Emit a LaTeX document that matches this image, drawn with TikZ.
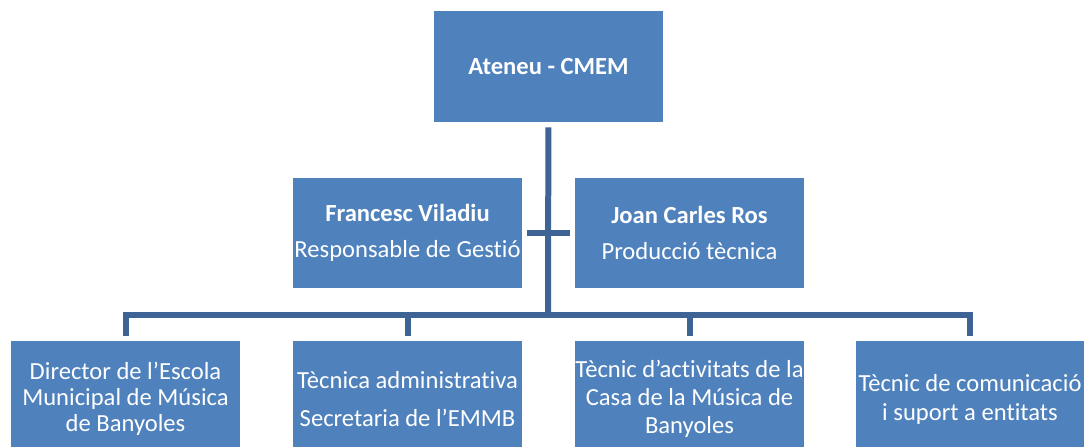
\documentclass[tikz,border=0pt]{standalone}
\usepackage{fontspec}
\setmainfont{Carlito}[Ligatures=NoCommon]
\definecolor{boxblue}{RGB}{79,129,189}
\definecolor{lineblue}{RGB}{61,100,148}
\begin{document}
\begin{tikzpicture}[x=0.02cm,y=-0.02cm,
    box/.style={fill=boxblue,text=white,minimum width=4.58cm,minimum height=2.22cm,
      inner sep=0pt,align=center,font=\fontsize{14}{14.8}\selectfont},
    lowbox/.style={box,minimum height=2.32cm},
    link/.style={draw=lineblue,line width=0.12cm}]
  \useasboundingbox (0,0) rectangle (1084,446);
  \node[box] (top) at (548.5,66.5) {\textbf{Ateneu - CMEM}};
  \node[box] (fv) at (407.5,233) {\textbf{Francesc Viladiu}\\[5.7pt]Responsable de Gestió};
  \node[box] (jc) at (689.5,233) {\textbf{Joan Carles Ros}\\[5.7pt]Producció tècnica};
  \node[lowbox] (dir) at (125.5,399) {Director de l’Escola\\Municipal de Música\\de Banyoles};
  \node[lowbox] (adm) at (407.5,399) {Tècnica administrativa\\[6.8pt]Secretaria de l’EMMB};
  \node[lowbox] (cas) at (689.5,399) {Tècnic d’activitats de la\\[1pt]Casa de la Música de\\[1pt]Banyoles};
  \node[lowbox] (com) at (970,399) {Tècnic de comunicació\\[1.7pt]i suport a entitats};
  \coordinate (hub) at (548,315);
  \coordinate (crossL) at (527,233);
  \coordinate (crossR) at (570,233);
  \begin{scope}[link]
    \draw[shorten <=0.1cm] (top) -- (hub);
    \draw (crossL) -- (crossR);
    \draw[shorten >=0.1cm] (hub) -| (dir);
    \draw[shorten >=0.1cm] (hub) -| (adm);
    \draw[shorten >=0.1cm] (hub) -| (cas);
    \draw[shorten >=0.1cm] (hub) -| (com);
  \end{scope}
\end{tikzpicture}
\end{document}
